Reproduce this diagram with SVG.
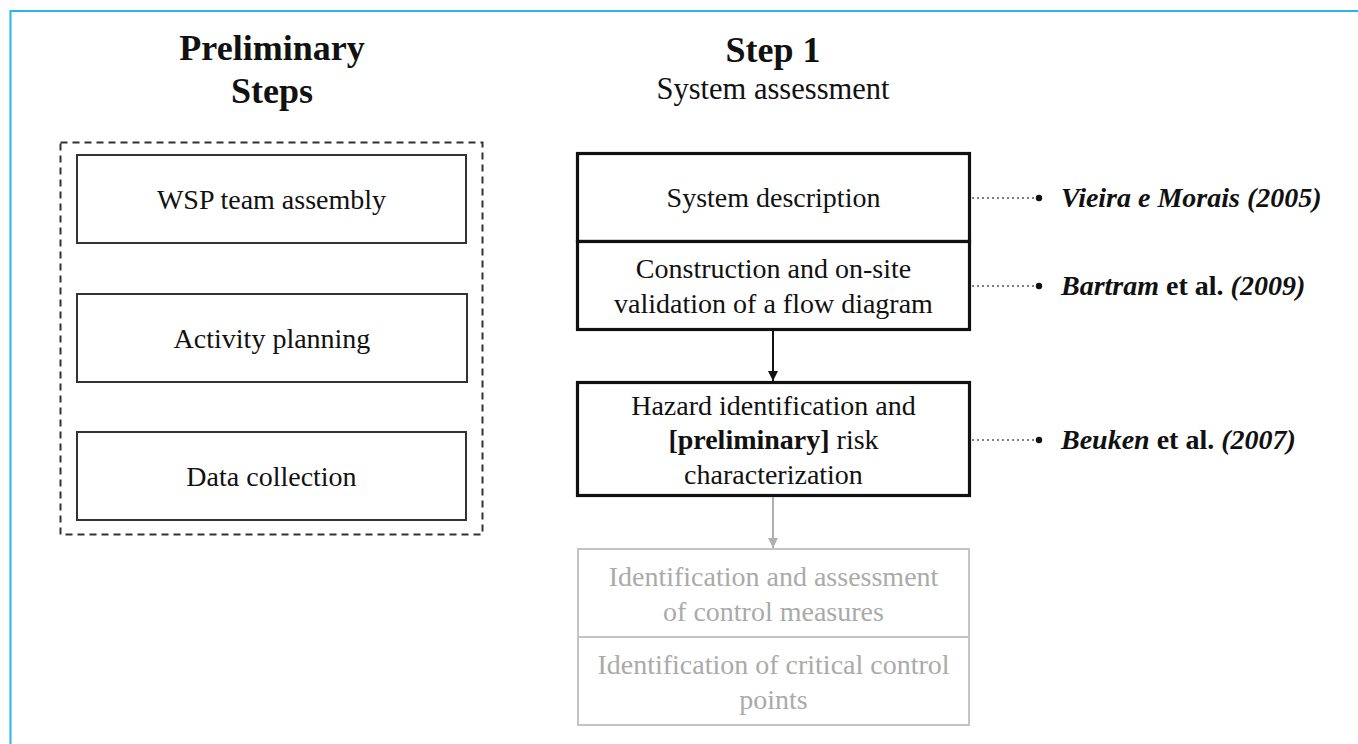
<svg xmlns="http://www.w3.org/2000/svg" width="1358" height="744" viewBox="0 0 1358 744">
<style>
text{font-family:"Liberation Serif","Times New Roman",serif;text-anchor:middle;fill:#111}
.title{font-size:36px;font-weight:bold}
.sub{font-size:30.5px}
.lbl{font-size:28px}
.grey{fill:#aaaaaa}
.cite{font-size:28px;font-weight:bold;text-anchor:start}
.it{font-style:italic}
.box{fill:#fff;stroke:#333;stroke-width:2}
.tbox{fill:#fff;stroke:#111;stroke-width:3.2}
.gbox{fill:#fff;stroke:#c4c4c4;stroke-width:2}
.dot{stroke:#555;stroke-width:1.5;stroke-dasharray:2 3;fill:none}
</style>
<defs>
<marker id="ah" viewBox="0 0 10 10" refX="10" refY="5" markerWidth="10" markerHeight="10" markerUnits="userSpaceOnUse" orient="auto"><path d="M0,0L10,5L0,10z" fill="#111"/></marker>
<marker id="ahg" viewBox="0 0 10 10" refX="10" refY="5" markerWidth="10" markerHeight="10" markerUnits="userSpaceOnUse" orient="auto"><path d="M0,0L10,5L0,10z" fill="#b0b0b0"/></marker>
</defs>
<path d="M10.5,744V11H1358" fill="none" stroke="#29b5e8" stroke-width="2"/>
<g id="titles">
<text class="title" x="272" y="60">Preliminary</text>
<text class="title" x="272" y="103">Steps</text>
<text class="title" x="773" y="62">Step 1</text>
<text class="sub" x="773" y="99">System assessment</text>
</g>
<g id="preliminary-group">
<rect x="60.5" y="142.5" width="422" height="392" fill="none" stroke="#333" stroke-width="2" stroke-dasharray="7 5"/>
</g>
<g id="wsp"><rect class="box" x="77" y="155" width="389" height="88"/><text class="lbl" x="271.5" y="209">WSP team assembly</text></g>
<g id="activity"><rect class="box" x="77" y="294" width="390" height="88"/><text class="lbl" x="272" y="348">Activity planning</text></g>
<g id="data"><rect class="box" x="77" y="432" width="389" height="88"/><text class="lbl" x="271.5" y="486">Data collection</text></g>
<g id="system-description"><rect class="tbox" x="577.5" y="153.5" width="392" height="88"/><text class="lbl" x="773.5" y="207">System description</text></g>
<g id="flow-diagram"><rect class="tbox" x="577.5" y="241.5" width="392" height="88"/><text class="lbl" x="773.5" y="278">Construction and on-site</text><text class="lbl" x="773.5" y="313">validation of a flow diagram</text></g>
<g id="hazard"><rect class="tbox" x="577.5" y="382.5" width="392" height="113"/><text class="lbl" x="773.5" y="415">Hazard identification and</text><text class="lbl" x="773.5" y="449"><tspan font-weight="bold">[preliminary]</tspan> risk</text><text class="lbl" x="773.5" y="484">characterization</text></g>
<g id="control-measures"><rect class="gbox" x="578" y="549" width="391" height="88"/><text class="lbl grey" x="773.5" y="586">Identification and assessment</text><text class="lbl grey" x="773.5" y="621">of control measures</text></g>
<g id="ccp"><rect class="gbox" x="578" y="637" width="391" height="88"/><text class="lbl grey" x="773.5" y="674">Identification of critical control</text><text class="lbl grey" x="773.5" y="709">points</text></g>
<g id="connectors">
<line x1="773" y1="331" x2="773" y2="381" stroke="#111" stroke-width="2" marker-end="url(#ah)"/>
<line x1="773" y1="497" x2="773" y2="548" stroke="#b0b0b0" stroke-width="2" marker-end="url(#ahg)"/>
<line class="dot" x1="972" y1="198" x2="1036" y2="198"/>
<line class="dot" x1="972" y1="286" x2="1036" y2="286"/>
<line class="dot" x1="972" y1="440" x2="1036" y2="440"/>
<circle cx="1039" cy="198" r="3.2" fill="#111"/>
<circle cx="1039" cy="286" r="3.2" fill="#111"/>
<circle cx="1039" cy="440" r="3.2" fill="#111"/>
</g>
<g id="cite1"><text class="cite it" x="1061" y="207">Vieira e Morais (2005)</text></g>
<g id="cite2"><text class="cite" x="1061" y="295"><tspan class="it">Bartram</tspan> et al. <tspan class="it">(2009)</tspan></text></g>
<g id="cite3"><text class="cite" x="1061" y="449"><tspan class="it">Beuken</tspan> et al. <tspan class="it">(2007)</tspan></text></g>
</svg>
